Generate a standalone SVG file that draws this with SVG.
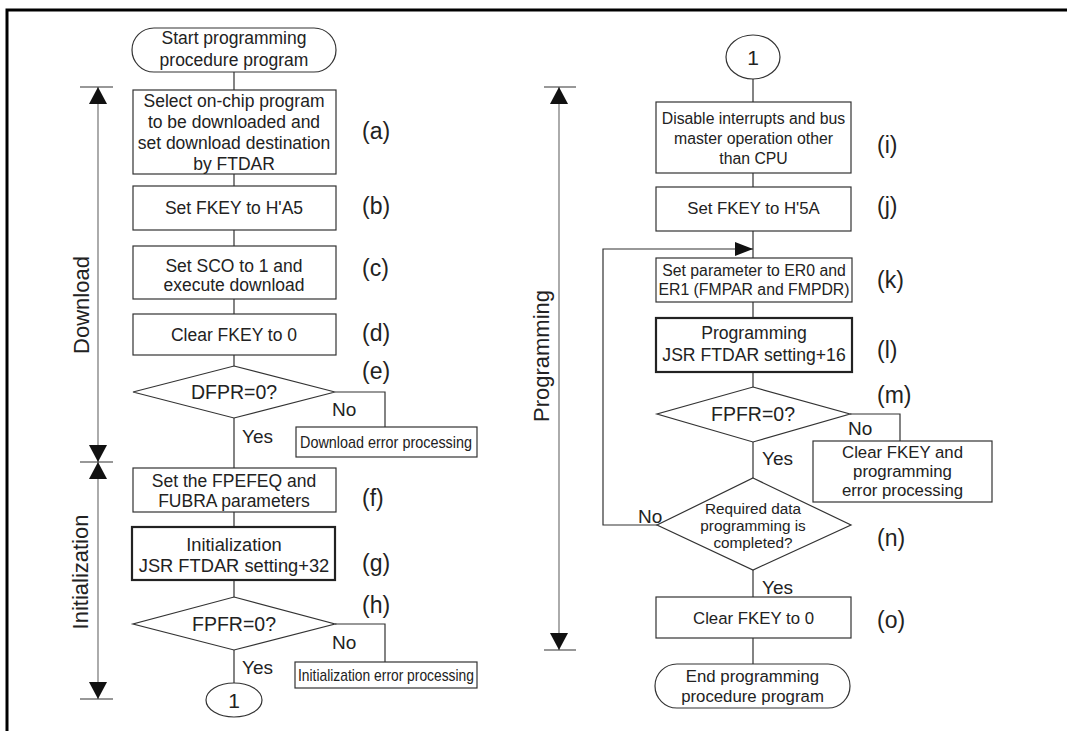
<svg xmlns="http://www.w3.org/2000/svg" width="1067" height="731" viewBox="0 0 1067 731">
<defs>
<style>
.box{fill:#fff;stroke:#333;stroke-width:1.2}
.thick{fill:#fff;stroke:#222;stroke-width:2.2}
.t{font-family:"Liberation Sans",Arial,sans-serif;fill:#222;text-anchor:middle}
.s17{font-size:17.5px}
.r17{font-size:16.8px}
.r16{font-size:15.8px}
.s18{font-size:18.3px}
.r18{font-size:17.6px}
.s19{font-size:19.5px}
.lab{font-family:"Liberation Sans",Arial,sans-serif;fill:#222;font-size:23px}
.yn{font-family:"Liberation Sans",Arial,sans-serif;fill:#222;font-size:19px}
.ax{font-family:"Liberation Sans",Arial,sans-serif;fill:#222;font-size:22px;text-anchor:middle}
.c{fill:none;stroke:#333;stroke-width:1.2}
.axis{fill:none;stroke:#888;stroke-width:1.4}
.tick{fill:none;stroke:#333;stroke-width:1.2}
</style>
<marker id="tri" viewBox="0 0 17 18" refX="17" refY="9" markerWidth="17" markerHeight="18" markerUnits="userSpaceOnUse" orient="auto-start-reverse">
<path d="M0,0 L17,9 L0,18 Z" fill="#111"/>
</marker>
<marker id="arr" viewBox="0 0 18 14" refX="18" refY="7" markerWidth="18" markerHeight="14" markerUnits="userSpaceOnUse" orient="auto">
<path d="M0,0 L18,7 L0,14 Z" fill="#111"/>
</marker>
</defs>
<rect width="1067" height="731" fill="#fff"/>
<path d="M7,731 V10 H1067" fill="none" stroke="#000" stroke-width="3"/>

<g id="connectors">
<path class="c" d="M234,72 V90 M234,174 V186 M234,230 V246 M234,299 V314 M234,355 V366 M234,418 V468 M335,392 H385 V427 M234,512 V527 M234,580 V597 M335,624 H385 V662 M234,650 V683"/>
<path class="c" d="M753,79 V102 M753,173 V187 M753,231 V258 M753,302 V318 M753,372 V387 M850,414 H900 V441 M753,442 V478 M753,570 V597 M753,638 V664"/>
<path class="c" d="M657,525 H603 V249 H753" marker-end="url(#arr)"/>
</g>

<g id="axes">
<path class="axis" d="M98,87 V462" marker-start="url(#tri)" marker-end="url(#tri)"/>
<path class="axis" d="M98,462 V699" marker-start="url(#tri)" marker-end="url(#tri)"/>
<path class="tick" d="M80,87 H113 M80,462 H113 M80,699 H113"/>
<text class="ax" transform="translate(89,305) rotate(-90)">Download</text>
<text class="ax" transform="translate(88,572) rotate(-90)">Initialization</text>
<path class="axis" d="M559,87 V650" marker-start="url(#tri)" marker-end="url(#tri)"/>
<path class="tick" d="M544,87 H576 M544,650 H576"/>
<text class="ax" transform="translate(549,356) rotate(-90)">Programming</text>
</g>

<g id="start">
<rect class="box" x="132" y="28" width="204" height="44" rx="22"/>
<text class="t s17" x="234" y="44">Start programming</text>
<text class="t s17" x="234" y="66">procedure program</text>
</g>
<g id="a">
<rect class="box" x="133" y="90" width="203" height="84"/>
<text class="t s17" x="234" y="107">Select on-chip program</text>
<text class="t s17" x="234" y="128">to be downloaded and</text>
<text class="t s17" x="234" y="149">set download destination</text>
<text class="t s17" x="234" y="170">by FTDAR</text>
<text class="lab" x="362" y="139">(a)</text>
</g>
<g id="b">
<rect class="box" x="133" y="186" width="203" height="44"/>
<text class="t s17" x="234" y="214">Set FKEY to H'A5</text>
<text class="lab" x="362" y="214">(b)</text>
</g>
<g id="c">
<rect class="box" x="133" y="246" width="203" height="53"/>
<text class="t s17" x="234" y="272">Set SCO to 1 and</text>
<text class="t s17" x="234" y="291">execute download</text>
<text class="lab" x="362" y="276">(c)</text>
</g>
<g id="d">
<rect class="box" x="133" y="314" width="203" height="41"/>
<text class="t s17" x="234" y="341">Clear FKEY to 0</text>
<text class="lab" x="362" y="341">(d)</text>
</g>
<g id="e">
<polygon class="box" points="234,366 335,392 234,418 133,392"/>
<text class="t s19" x="234" y="399">DFPR=0?</text>
<text class="lab" x="362" y="379">(e)</text>
<text class="yn" x="332" y="416">No</text>
<text class="yn" x="242" y="443">Yes</text>
</g>
<g id="e-err">
<rect class="box" x="296" y="427" width="181" height="30"/>
<text class="t" style="font-size:17px" x="386" y="448" textLength="172" lengthAdjust="spacingAndGlyphs">Download error processing</text>
</g>
<g id="f">
<rect class="box" x="133" y="468" width="203" height="44"/>
<text class="t s17" x="234" y="487">Set the FPEFEQ and</text>
<text class="t s17" x="234" y="507">FUBRA parameters</text>
<text class="lab" x="362" y="506">(f)</text>
</g>
<g id="g">
<rect class="thick" x="132" y="527" width="203" height="53"/>
<text class="t s18" x="234" y="551">Initialization</text>
<text class="t s18" x="234" y="572">JSR FTDAR setting+32</text>
<text class="lab" x="362" y="571">(g)</text>
</g>
<g id="h">
<polygon class="box" points="234,597 335,624 234,650 133,624"/>
<text class="t s19" x="234" y="631">FPFR=0?</text>
<text class="lab" x="362" y="613">(h)</text>
<text class="yn" x="332" y="649">No</text>
<text class="yn" x="242" y="674">Yes</text>
</g>
<g id="h-err">
<rect class="box" x="295" y="662" width="182" height="26"/>
<text class="t" style="font-size:17px" x="386" y="681" textLength="176" lengthAdjust="spacingAndGlyphs">Initialization error processing</text>
</g>
<g id="conn-left">
<ellipse class="box" cx="234" cy="700" rx="28" ry="17"/>
<text class="t" style="font-size:21px" x="234" y="708">1</text>
</g>

<g id="conn-right">
<ellipse class="box" cx="753" cy="57" rx="27" ry="22"/>
<text class="t" style="font-size:21px" x="753" y="65">1</text>
</g>
<g id="i">
<rect class="box" x="656" y="102" width="195" height="71"/>
<text class="t r16" x="753.5" y="124">Disable interrupts and bus</text>
<text class="t r16" x="753.5" y="144">master operation other</text>
<text class="t r16" x="753.5" y="164">than CPU</text>
<text class="lab" x="877" y="153">(i)</text>
</g>
<g id="j">
<rect class="box" x="656" y="187" width="195" height="44"/>
<text class="t r17" x="753.5" y="214">Set FKEY to H'5A</text>
<text class="lab" x="877" y="214">(j)</text>
</g>
<g id="k">
<rect class="box" x="656" y="258" width="196" height="44"/>
<text class="t r16" x="754" y="276">Set parameter to ER0 and</text>
<text class="t r16" x="754" y="295">ER1 (FMPAR and FMPDR)</text>
<text class="lab" x="877" y="288">(k)</text>
</g>
<g id="l">
<rect class="thick" x="656" y="318" width="196" height="54"/>
<text class="t r18" x="754" y="339">Programming</text>
<text class="t r18" x="754" y="361">JSR FTDAR setting+16</text>
<text class="lab" x="877" y="358">(l)</text>
</g>
<g id="m">
<polygon class="box" points="753,387 850,414 753,442 657,414"/>
<text class="t s19" x="753" y="421">FPFR=0?</text>
<text class="lab" x="877" y="403">(m)</text>
<text class="yn" x="848" y="435">No</text>
<text class="yn" x="762" y="465">Yes</text>
</g>
<g id="m-err">
<rect class="box" x="813" y="441" width="179" height="61"/>
<text class="t r17" x="902.5" y="458">Clear FKEY and</text>
<text class="t r17" x="902.5" y="477">programming</text>
<text class="t r17" x="902.5" y="496">error processing</text>
</g>
<g id="n">
<polygon class="box" points="753,478 851,525 753,570 657,525"/>
<text class="t" style="font-size:15.3px" x="753" y="514">Required data</text>
<text class="t" style="font-size:15.3px" x="753" y="531">programming is</text>
<text class="t" style="font-size:15.3px" x="753" y="548">completed?</text>
<text class="lab" x="877" y="546">(n)</text>
<text class="yn" x="638" y="523">No</text>
<text class="yn" x="762" y="594">Yes</text>
</g>
<g id="o">
<rect class="box" x="656" y="597" width="195" height="41"/>
<text class="t r17" x="753.5" y="624">Clear FKEY to 0</text>
<text class="lab" x="877" y="628">(o)</text>
</g>
<g id="end">
<rect class="box" x="655" y="664" width="195" height="44" rx="22"/>
<text class="t r17" x="752.5" y="682">End programming</text>
<text class="t r17" x="752.5" y="702">procedure program</text>
</g>
</svg>
